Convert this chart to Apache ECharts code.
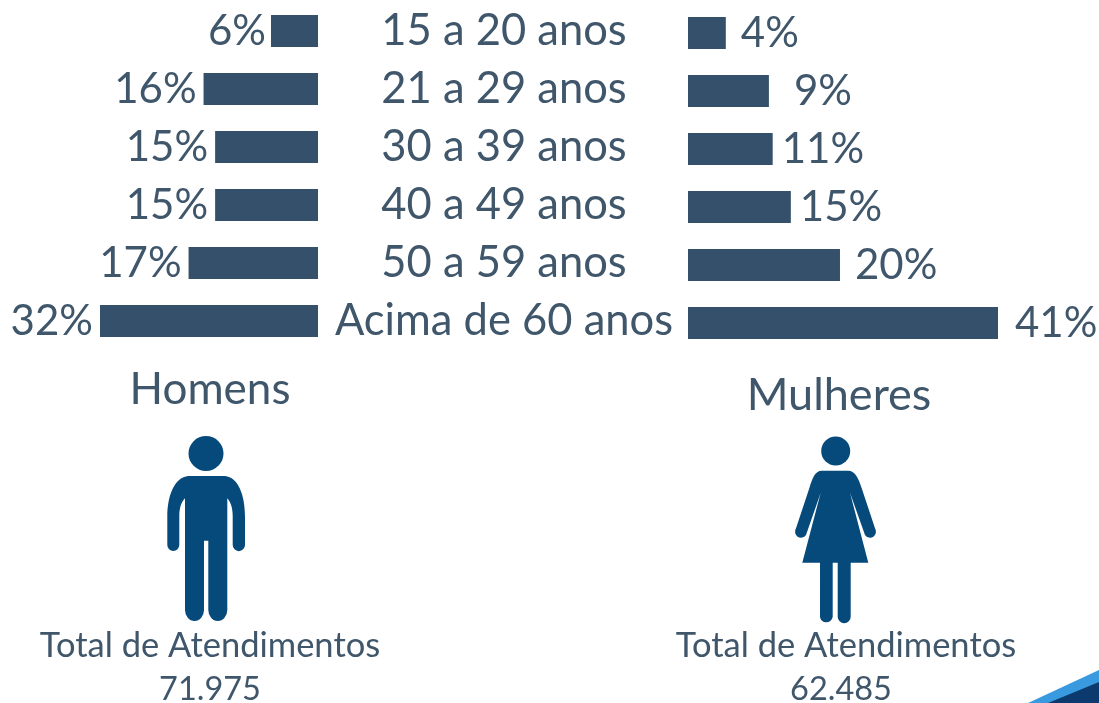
<!DOCTYPE html>
<html><head><meta charset="utf-8">
<style>html,body{margin:0;padding:0;background:#fff}#c{width:1099px;height:703px}</style>
<script src="https://cdn.jsdelivr.net/npm/echarts@6/dist/echarts.min.js"></script>
</head><body><div id="c"></div>
<script>
const ageGroups = ['15 a 20 anos','21 a 29 anos','30 a 39 anos','40 a 49 anos','50 a 59 anos','Acima de 60 anos'];
// Bar lengths as drawn in the picture (they do not follow the printed percentages exactly)
const menBars = [6.9,16.8,15.1,15.1,19,32];
const womenBars = [5,10.7,11.2,13.6,20.1,41];
// Percentages as printed
const menLabels = ['6%','16%','15%','15%','17%','32%'];
const womenLabels = ['4%','9%','11%','15%','20%','41%'];
const menGaps = [5,7,7,7,7,7];
const womenGaps = [15,25,9,9,15,17];
const groupNames = ['Homens','Mulheres'];
const totalCaption = 'Total de Atendimentos';
const totals = ['71.975','62.485'];

const FONT = 'Lato';
const TEXT = '#3f566b';
const BAR = '#34506a';
const ICON = '#064a7c';

const manPath = 'M188.3 476 L225 476 C238 477 245 495 245 516.7 L245 545 A6.1 6.1 0 0 1 232.7 545 L232.7 516 C232.7 507 230 501 227.3 498.3 L227.3 610 A9.5 11 0 0 1 208.3 610 L208.3 540.7 L204 540.7 L204 610 A9.5 11 0 0 1 185 610 L185 498.3 C182 501 179.3 507 179.3 516 L179.3 545 A6 6 0 0 1 167.3 545 L167.3 516.7 C167.3 495 175 477 188.3 476 Z';
const womanPath = 'M821.7 470.7 L848.3 470.7 C855 470.7 859 479 861.7 488.3 L875 528.3 A5.5 5.5 0 0 1 865 535 L850 492.7 L868.3 562.7 L850.7 562.7 L850.7 616.7 A6.5 6.5 0 0 1 837.7 616.7 L837.7 562.7 L832.7 562.7 L832.7 616.7 A6.4 6.4 0 0 1 820 616.7 L820 562.7 L802.3 562.7 L820.7 492.7 L806 535 A5.5 5.5 0 0 1 796 528.3 L809.3 488.3 C812 479 815 470.7 821.7 470.7 Z';

echarts.graphic.registerShape('manIcon', echarts.graphic.extendPath(manPath, {}));
echarts.graphic.registerShape('womanIcon', echarts.graphic.extendPath(womanPath, {}));

function txt(s, x, y, size) {
  return {type:'text', style:{text:s, x:x, y:y, fill:TEXT, font:size+'px '+FONT, textAlign:'center', textVerticalAlign:'middle'}};
}
function bars(values, labels, gaps, pos, idx) {
  return {
    type:'bar', xAxisIndex:idx, yAxisIndex:idx, barWidth:32, silent:true,
    itemStyle:{color:BAR},
    data: values.map((v,i)=>({value:v, label:{
      show:true, position:pos, distance:gaps[i], formatter:labels[i],
      fontFamily:FONT, fontSize:42, color:TEXT
    }}))
  };
}
const chart = echarts.init(document.getElementById('c'));
chart.setOption({
  animation:false,
  backgroundColor:'#fff',
  grid:[
    {left:100, top:2, width:218, height:348},
    {left:688, top:4, width:310, height:348}
  ],
  xAxis:[
    {type:'value', gridIndex:0, min:0, max:32, inverse:true, show:false},
    {type:'value', gridIndex:1, min:0, max:41, show:false}
  ],
  yAxis:[
    {type:'category', gridIndex:0, data:ageGroups, inverse:true, position:'right',
     axisLine:{show:false}, axisTick:{show:false},
     axisLabel:{show:true, align:'center', margin:186, fontFamily:FONT, fontSize:43.5, color:TEXT, interval:0}},
    {type:'category', gridIndex:1, data:ageGroups, inverse:true, show:false}
  ],
  series:[
    bars(menBars, menLabels, menGaps, 'left', 0),
    bars(womenBars, womenLabels, womenGaps, 'right', 1)
  ],
  graphic:[
    txt(groupNames[0],210,390,44),
    txt(groupNames[1],839,395,45),
    txt(totalCaption,210,646,34.5),
    txt(totals[0],210,690,32.5),
    txt(totalCaption,846,646,34.5),
    txt(totals[1],841,690,32.5),
    {type:'circle', shape:{cx:206,cy:453.5,r:17.5}, style:{fill:ICON}},
    {type:'manIcon', style:{fill:ICON}},
    {type:'circle', shape:{cx:835.7,cy:451,r:14.5}, style:{fill:ICON}},
    {type:'womanIcon', style:{fill:ICON}},
    {type:'polygon', shape:{points:[[1028,703],[1099,670],[1099,703]]}, style:{fill:'#3a9ae0'}},
    {type:'polygon', shape:{points:[[1048,703],[1099,682],[1099,703]]}, style:{fill:'#0c3a6e'}}
  ]
});
</script></body></html>
